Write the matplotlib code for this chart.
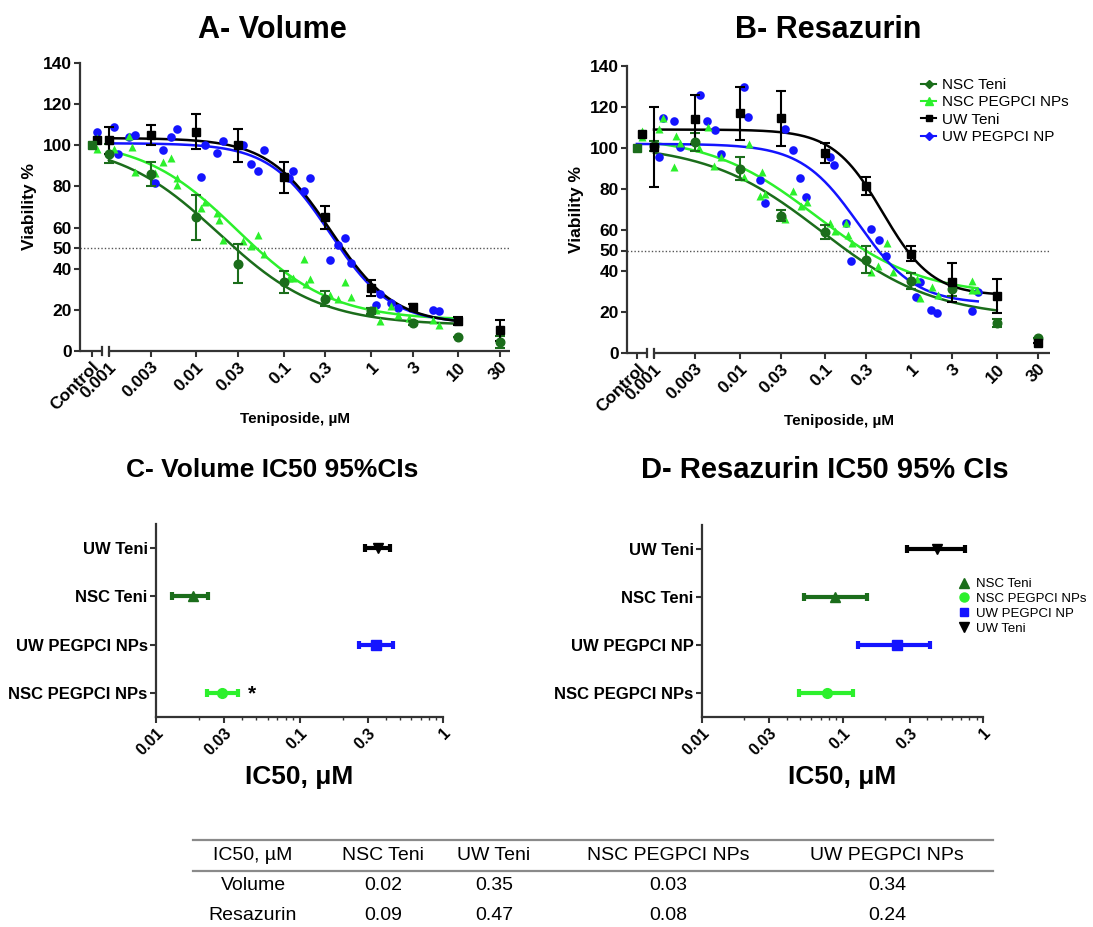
import numpy as np
import matplotlib
matplotlib.use("Agg")
import matplotlib.pyplot as plt
from matplotlib.lines import Line2D
from matplotlib.ticker import FixedLocator, NullLocator, LogLocator, NullFormatter

plt.rcParams['font.family'] = ['Liberation Sans', 'DejaVu Sans']

# ---------------------------------------------------------------- colours
DKGREEN = '#1b6d1b'
LTGREEN = '#2cf02c'
BLUE = '#1414ff'
BLACK = '#000000'
AXCOL = '#333333'

# ---------------------------------------------------------------- data
# series order everywhere: NSC Teni, UW Teni, NSC PEGPCI NPs, UW PEGPCI NPs
series_names = ['NSC Teni', 'UW Teni', 'NSC PEGPCI NPs', 'UW PEGPCI NPs']

doses = [0.001, 0.003, 0.01, 0.03, 0.1, 0.3, 1, 3, 10, 30]
dose_labels = ['0.001', '0.003', '0.01', '0.03', '0.1', '0.3', '1', '3', '10', '30']

# Volume assay: mean +/- error of the free drug
vol_nsc_teni_ctrl = 100.0
vol_nsc_teni_mean = [96, 86, 65, 42.5, 33.5, 25.5, 19.5, 13.5, 7, 4.5]
vol_nsc_teni_err = [4.5, 6, 11, 9.5, 5.5, 3.5, 1.5, 1, 0, 2.8]
vol_uw_teni_ctrl = 102.5
vol_uw_teni_mean = [102.5, 105, 106.5, 100, 84.5, 65, 30.5, 21.5, 14.5, 10]
vol_uw_teni_err = [6.5, 5, 8.5, 8, 7.5, 5.5, 4, 1.5, 1.8, 5]

# Volume assay: nanoparticle replicates
vol_nscnp_ctrl = [103.5, 98.2]
vol_nscnp_x = [0.00113, 0.0017, 0.00185, 0.0020, 0.0034, 0.0042, 0.0051, 0.0060,
               0.0060, 0.0113, 0.0125, 0.0172, 0.0180, 0.0200, 0.034, 0.042, 0.051,
               0.060, 0.114, 0.127, 0.172, 0.180, 0.201, 0.341, 0.417, 0.51, 0.595,
               1.15, 1.28, 1.70, 2.03, 2.7, 5.15, 6.1]
vol_nscnp_y = [98.3, 104.6, 99.4, 87.2, 86.4, 91.8, 93.7, 80.7, 84.0, 69.4, 72.6,
               66.9, 63.7, 54.2, 53.4, 51.0, 56.4, 47.1, 35.6, 35.6, 44.5, 32.5,
               34.9, 27.4, 25.5, 33.3, 26.3, 20.1, 14.6, 21.9, 17.7, 15.8, 15.3, 12.8]
vol_uwnp_ctrl = [106.4]
vol_uwnp_x = [0.00113, 0.00126, 0.0017, 0.0020, 0.0034, 0.0042, 0.0051, 0.0060,
              0.0113, 0.0125, 0.0171, 0.0200, 0.034, 0.042, 0.051, 0.060, 0.114,
              0.127, 0.172, 0.201, 0.341, 0.417, 0.51, 0.595, 1.15, 1.28, 1.70,
              2.03, 5.15, 6.1]
vol_uwnp_y = [109.1, 95.7, 103.8, 104.9, 81.5, 97.5, 103.8, 107.8, 84.6, 99.9, 96.2,
              102.2, 100.2, 90.8, 87.5, 97.5, 84.0, 87.5, 78.0, 84.0, 44.2, 51.5,
              54.7, 42.6, 22.3, 27.9, 23.1, 21.0, 19.8, 19.3]

# Resazurin assay: mean +/- error of the free drug
res_nsc_teni_ctrl = 100.0
res_nsc_teni_mean = [101, 103, 90, 67, 59, 45.5, 35, 31, 14.5, 7.5]
res_nsc_teni_err = [2.5, 4.5, 5.5, 2.8, 3.5, 6.5, 4, 3, 2, 0]
res_uw_teni_ctrl = 107.0
res_uw_teni_mean = [100.5, 114, 117, 114.5, 97.5, 81.5, 48.5, 34.5, 28, 5]
res_uw_teni_err = [19.7, 12, 13, 13.5, 5, 4.5, 3.5, 9.5, 8.3, 0]

# Resazurin assay: nanoparticle replicates
res_nscnp_ctrl = [108.4, 105.4]
res_nscnp_x = [0.00114, 0.00126, 0.00171, 0.00181, 0.00201, 0.00338, 0.0043, 0.00506,
               0.0061, 0.0113, 0.0127, 0.0173, 0.0182, 0.020, 0.0339, 0.0423, 0.0524,
               0.0605, 0.113, 0.131, 0.174, 0.186, 0.205, 0.344, 0.416, 0.52, 0.61,
               1.16, 1.27, 1.74, 2.05, 5.15, 5.15, 5.94]
res_nscnp_y = [109.3, 114.8, 90.5, 106.0, 102.3, 100.0, 110.4, 91.0, 95.5, 86.0, 102.0,
               76.8, 88.5, 77.5, 65.3, 78.8, 71.8, 73.6, 63.3, 59.3, 63.3, 57.7, 53.6,
               39.3, 42.2, 53.9, 39.3, 36.0, 26.8, 32.2, 28.4, 35.0, 30.5, 30.5]
res_uwnp_ctrl = [107.0]
res_uwnp_x = [0.00113, 0.00126, 0.0017, 0.0020, 0.0034, 0.0042, 0.0051, 0.0060,
              0.0113, 0.0125, 0.0172, 0.0200, 0.034, 0.042, 0.051, 0.060, 0.114,
              0.127, 0.172, 0.201, 0.341, 0.417, 0.51, 1.15, 1.28, 1.70, 2.03,
              5.15, 6.1]
res_uwnp_y = [95.5, 114.8, 113.2, 100.7, 125.7, 113.2, 108.8, 97.0, 129.6, 115.3,
              84.5, 73.1, 109.1, 99.0, 85.3, 76.3, 95.8, 91.8, 63.3, 44.7, 60.4,
              55.2, 47.1, 27.3, 34.4, 20.8, 19.5, 20.3, 29.6]

# Four-parameter logistic fits and IC50 with 95% confidence limits
vol_ic50 = [0.018, 0.35, 0.029, 0.34]
vol_ci_low = [0.0129, 0.287, 0.0228, 0.26]
vol_ci_high = [0.0232, 0.425, 0.0375, 0.448]
vol_top = [102, 103.5, 103, 101]
vol_bottom = [12.5, 13, 15, 13.5]
vol_hill = [0.75, 1.2, 0.8, 1.25]

res_ic50 = [0.089, 0.467, 0.077, 0.243]
res_ci_low = [0.0536, 0.289, 0.049, 0.128]
res_ci_high = [0.149, 0.75, 0.119, 0.418]
res_top = [102, 109, 106, 102]
res_bottom = [17, 28, 28, 24]
res_hill = [0.65, 1.5, 0.7, 1.3]

ci_labels_vol = ['UW Teni', 'NSC Teni', 'UW PEGPCI NPs', 'NSC PEGPCI NPs']
ci_labels_res = ['UW Teni', 'NSC Teni', 'UW PEGPCI NP', 'NSC PEGPCI NPs']

# ---------------------------------------------------------------- layout helpers
W, H = 1093, 927
fig = plt.figure(figsize=(W / 100, H / 100), dpi=100)


def box(left, top, right, bottom):
    return [left / W, 1 - bottom / H, (right - left) / W, (bottom - top) / H]


def fig_text(x, y, s, **kw):
    fig.text(x / W, 1 - y / H, s, ha='center', va='center', **kw)


CTRL_POS = 10 ** -3.2      # where the untreated control sits on the broken axis
CTRL_REP = 10 ** -3.14     # replicate controls drawn just beside it
BREAK_POS = 10 ** -3.08    # end of the control stub of the x axis
SERIES_COL = [DKGREEN, BLACK, LTGREEN, BLUE]


def logistic(x, top, bottom, ic50, hill):
    x = np.asarray(x)
    return bottom + (top - bottom) / (1 + (x / ic50) ** hill)


def dose_panel(ax, xlim, nsc_ctrl, nsc_mean, nsc_err, uw_ctrl, uw_mean, uw_err,
               np_nsc_ctrl, np_nsc_x, np_nsc_y, np_uw_ctrl, np_uw_x, np_uw_y,
               top, bottom, ic50, hill, curve_ranges):
    ax.set_xscale('log')
    ax.set_xlim(*xlim)
    ax.set_ylim(0, 140)

    # fitted curves
    for i in [0, 2, 3, 1]:
        lo, hi = curve_ranges[i]
        xs = np.logspace(np.log10(lo), np.log10(hi), 300)
        ax.plot(xs, logistic(xs, top[i], bottom[i], ic50[i], hill[i]),
                color=SERIES_COL[i], lw=1.8, zorder=2)

    # replicate points of the nanoparticle series
    ax.plot(list(np_uw_x), np_uw_y, 'o', color=BLUE, ms=6.2, mec='none', zorder=3)
    ax.plot([CTRL_REP] * len(np_uw_ctrl), np_uw_ctrl, 'o', color=BLUE, ms=6.2,
            mec='none', zorder=3)
    ax.plot(list(np_nsc_x), np_nsc_y, '^', color=LTGREEN, ms=6.4, mec='none', zorder=3)
    ax.plot([CTRL_REP] * len(np_nsc_ctrl), np_nsc_ctrl, '^', color=LTGREEN, ms=6.4,
            mec='none', zorder=3)

    # free drug, mean with error bars
    ax.errorbar(doses, nsc_mean, yerr=nsc_err, fmt='o', color=DKGREEN, ms=6.2,
                elinewidth=1.5, capsize=3.5, capthick=1.5, zorder=4)
    ax.errorbar(doses, uw_mean, yerr=uw_err, fmt='s', color=BLACK, ms=6.2,
                elinewidth=1.5, capsize=3.5, capthick=1.5, zorder=4)
    ax.plot([CTRL_REP], [uw_ctrl], 's', color=BLACK, ms=6.2, zorder=3)
    ax.plot([CTRL_POS], [nsc_ctrl], 's', color=DKGREEN, ms=6.2, zorder=5)

    # 50 % reference line
    ax.axhline(50, color='#555555', lw=1.0, ls=(0, (1, 1.5)), zorder=1)

    # axes styling with a broken x axis
    for s in ['top', 'right', 'bottom']:
        ax.spines[s].set_visible(False)
    ax.spines['left'].set_linewidth(1.6)
    ax.spines['left'].set_color(AXCOL)
    xt = ax.get_xaxis_transform()
    ax.plot([xlim[0], BREAK_POS], [0, 0], color=AXCOL, lw=1.6, transform=xt,
            clip_on=False, solid_capstyle='butt')
    ax.plot([doses[0], xlim[1]], [0, 0], color=AXCOL, lw=1.6, transform=xt,
            clip_on=False, solid_capstyle='butt')
    for xb in [BREAK_POS, doses[0]]:
        ax.plot([xb, xb], [-0.014, 0.014], color=AXCOL, lw=1.6, transform=xt,
                clip_on=False)

    ax.xaxis.set_major_locator(FixedLocator([CTRL_POS] + doses))
    ax.xaxis.set_minor_locator(NullLocator())
    ax.set_xticklabels(['Control'] + dose_labels, rotation=45, ha='right', va='top',
                       rotation_mode='anchor', fontweight='bold', fontsize=12.5)
    ax.set_yticks([0, 20, 40, 50, 60, 80, 100, 120, 140])
    ax.set_yticklabels(['0', '20', '40', '50', '60', '80', '100', '120', '140'],
                       fontweight='bold', fontsize=12.5)
    ax.tick_params(axis='both', direction='out', length=4, width=1.5, color=AXCOL,
                   pad=2)
    ax.set_ylabel('Viability %', fontweight='bold', fontsize=12.5, labelpad=4)
    ax.set_xlabel('Teniposide, \u00b5M', fontweight='bold', fontsize=11, labelpad=-1)
    ax.patch.set_alpha(0)


# ---------------------------------------------------------------- panel A
axA = fig.add_axes(box(80, 63, 510, 351))
dose_panel(axA, (10 ** -3.332, 10 ** 1.593),
           vol_nsc_teni_ctrl, vol_nsc_teni_mean, vol_nsc_teni_err,
           vol_uw_teni_ctrl, vol_uw_teni_mean, vol_uw_teni_err,
           vol_nscnp_ctrl, vol_nscnp_x, vol_nscnp_y,
           vol_uwnp_ctrl, vol_uwnp_x, vol_uwnp_y,
           vol_top, vol_bottom, vol_ic50, vol_hill,
           [(0.001, 10), (0.001, 10), (0.001, 10), (0.001, 10)])
fig_text(272, 30, 'A- Volume', fontweight='bold', fontsize=22)

# ---------------------------------------------------------------- panel B
axB = fig.add_axes(box(627, 66, 1050, 353))
dose_panel(axB, (10 ** -3.315, 10 ** 1.621),
           res_nsc_teni_ctrl, res_nsc_teni_mean, res_nsc_teni_err,
           res_uw_teni_ctrl, res_uw_teni_mean, res_uw_teni_err,
           res_nscnp_ctrl, res_nscnp_x, res_nscnp_y,
           res_uwnp_ctrl, res_uwnp_x, res_uwnp_y,
           res_top, res_bottom, res_ic50, res_hill,
           [(0.001, 10), (0.001, 10), (0.001, 6), (CTRL_POS, 6)])
fig_text(828, 30, 'B- Resazurin', fontweight='bold', fontsize=22)

leg_handles = [
    Line2D([], [], color=DKGREEN, marker='D', ms=4.5, lw=1.5),
    Line2D([], [], color=LTGREEN, marker='^', ms=5.5, lw=1.5),
    Line2D([], [], color=BLACK, marker='s', ms=5, lw=1.5),
    Line2D([], [], color=BLUE, marker='D', ms=4.5, lw=1.5),
]
fig.legend(leg_handles, ['NSC Teni', 'NSC PEGPCI NPs', 'UW Teni', 'UW PEGPCI NP'],
           loc='upper left', bbox_to_anchor=(921 / W, 1 - 78 / H), frameon=False,
           fontsize=11, handlelength=1.0, handletextpad=0.4, labelspacing=0.22,
           borderpad=0, borderaxespad=0)


# ---------------------------------------------------------------- panels C and D
def ci_panel(ax, labels, ic50, lo, hi, star):
    # rows from top to bottom: UW Teni, NSC Teni, UW PEGPCI, NSC PEGPCI
    rows = [(1, BLACK, 'v', 4), (0, DKGREEN, '^', 3), (3, BLUE, 's', 2),
            (2, LTGREEN, 'o', 1)]
    for idx, col, mk, y in rows:
        c = ic50[idx]
        ax.errorbar([c], [y], xerr=[[c - lo[idx]], [hi[idx] - c]], fmt=mk, color=col,
                    ms=7, elinewidth=3, capsize=3, capthick=3, zorder=3)
    if star:
        ax.annotate('*', xy=(hi[2], 1), xytext=(7, -1), textcoords='offset points',
                    ha='left', va='center', fontsize=15, fontweight='bold')
    ax.set_xscale('log')
    ax.set_xlim(0.01, 1)
    ax.set_ylim(0.5, 4.5)
    ax.set_yticks([4, 3, 2, 1])
    ax.set_yticklabels(labels, fontweight='bold', fontsize=12)
    ax.xaxis.set_major_locator(FixedLocator([0.01, 0.03, 0.1, 0.3, 1]))
    ax.xaxis.set_minor_locator(LogLocator(base=10, subs=[2, 4, 5, 6, 7, 8, 9]))
    ax.xaxis.set_minor_formatter(NullFormatter())
    ax.set_xticklabels(['0.01', '0.03', '0.1', '0.3', '1'], rotation=45, ha='right',
                       va='top', rotation_mode='anchor', fontweight='bold',
                       fontsize=11.5)
    for s in ['top', 'right']:
        ax.spines[s].set_visible(False)
    for s in ['left', 'bottom']:
        ax.spines[s].set_linewidth(1.6)
        ax.spines[s].set_color(AXCOL)
    ax.tick_params(axis='both', which='major', direction='out', length=4, width=1.5,
                   color=AXCOL, pad=2)
    ax.tick_params(axis='x', which='minor', direction='out', length=2.5, width=1.0,
                   color=AXCOL)
    ax.set_xlabel('IC50, \u03bcM', fontweight='bold', fontsize=19, labelpad=5)
    ax.patch.set_alpha(0)


axC = fig.add_axes(box(156, 524, 443, 717))
ci_panel(axC, ci_labels_vol, vol_ic50, vol_ci_low, vol_ci_high, True)
fig_text(272, 470, 'C- Volume IC50 95%CIs', fontweight='bold', fontsize=19)

axD = fig.add_axes(box(702, 525, 983, 717))
ci_panel(axD, ci_labels_res, res_ic50, res_ci_low, res_ci_high, False)
fig_text(825, 470, 'D- Resazurin IC50 95% CIs', fontweight='bold', fontsize=21)

ci_handles = [
    Line2D([], [], color=DKGREEN, marker='^', ms=6.5, ls='none'),
    Line2D([], [], color=LTGREEN, marker='o', ms=6.5, ls='none'),
    Line2D([], [], color=BLUE, marker='s', ms=6, ls='none'),
    Line2D([], [], color=BLACK, marker='v', ms=6.5, ls='none'),
]
fig.legend(ci_handles, ['NSC Teni', 'NSC PEGPCI NPs', 'UW PEGPCI NP', 'UW Teni'],
           loc='upper left', bbox_to_anchor=(959 / W, 1 - 578 / H), frameon=False,
           fontsize=9.5, handlelength=0.8, handletextpad=0.5, labelspacing=0.2,
           borderpad=0, borderaxespad=0)

# ---------------------------------------------------------------- summary table
tbl_font = dict(family=['Liberation Sans Narrow', 'Liberation Sans'], fontsize=14)
col_x = [253, 383, 494, 668, 887]
row_y = [855, 886, 915]
header = ['IC50, \u00b5M'] + series_names
rows_tbl = [['Volume'] + [f'{v:.2f}' for v in vol_ic50],
            ['Resazurin'] + [f'{v:.2f}' for v in res_ic50]]
for x, txt in zip(col_x, header):
    fig_text(x, row_y[0], txt, **tbl_font)
for r, row in enumerate(rows_tbl):
    for x, txt in zip(col_x, row):
        fig_text(x, row_y[r + 1], txt, **tbl_font)
for yl in [840, 871]:
    fig.add_artist(Line2D([193 / W, 993 / W], [1 - yl / H, 1 - yl / H],
                          color='#8a8a8a', lw=1.6))

fig.savefig('out.png', dpi=100)
